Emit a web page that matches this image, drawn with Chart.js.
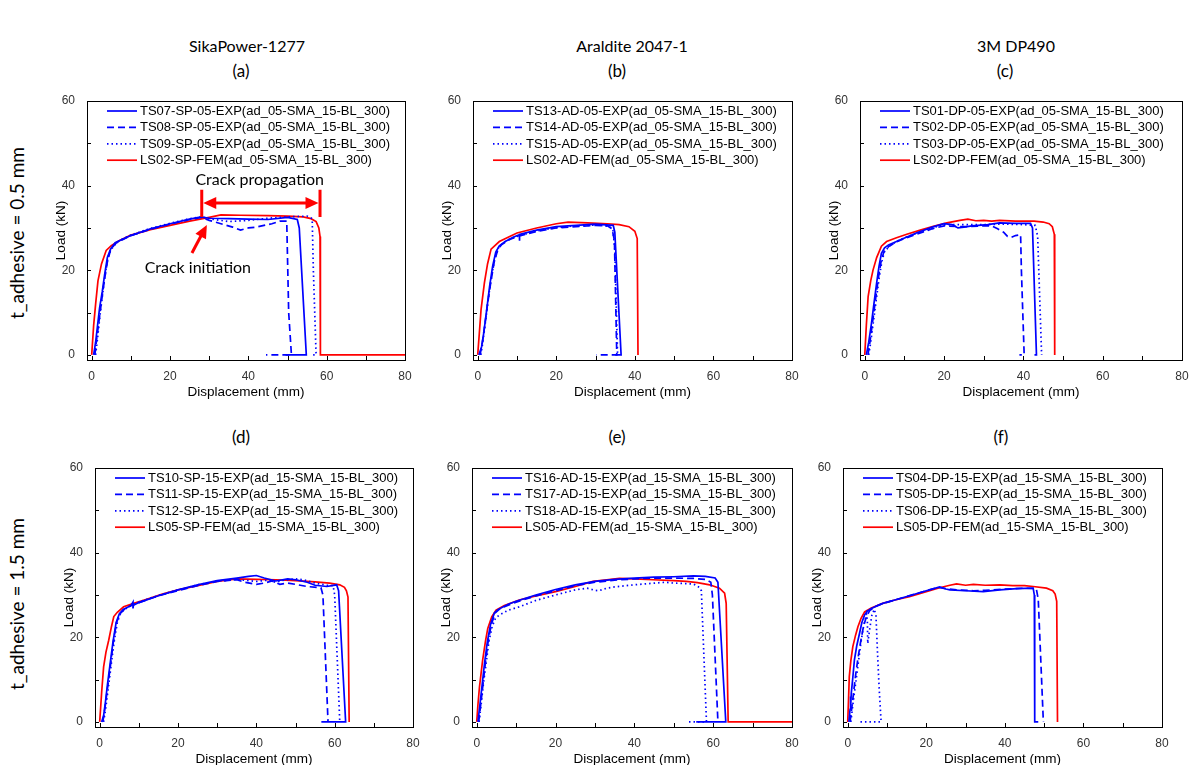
<!DOCTYPE html>
<html>
<head>
<meta charset="utf-8">
<script src="https://cdn.jsdelivr.net/npm/chart.js@4.4.1/dist/chart.umd.min.js"></script>
<style>
body { margin: 0; background: #fff; width: 1194px; height: 765px; position: relative; overflow: hidden; font-family: Lato, sans-serif; }
canvas { position: absolute; }
.t { position: absolute; transform: translate(-50%, -50%); white-space: nowrap; color: #000; font-size: 17px; }
.col { font-size: 16px; }
.row { font-size: 19px; transform: translate(-50%, -50%) rotate(-90deg); }
</style>
</head>
<body>
<div class="t col" style="left:247px;top:45px">SikaPower-1277</div>
<div class="t col" style="left:632px;top:45px">Araldite 2047-1</div>
<div class="t col" style="left:1016px;top:45px">3M DP490</div>
<div class="t" style="left:241px;top:70px">(a)</div>
<div class="t" style="left:617px;top:70px">(b)</div>
<div class="t" style="left:1005px;top:70px">(c)</div>
<div class="t" style="left:241px;top:436px">(d)</div>
<div class="t" style="left:617px;top:436px">(e)</div>
<div class="t" style="left:1001px;top:436px">(f)</div>
<div class="t row" style="left:16px;top:233px">t_adhesive = 0.5 mm</div>
<div class="t row" style="left:16px;top:604px">t_adhesive = 1.5 mm</div>

<script>
// axis ticks
const xTicks = [0, 10, 20, 30, 40, 50, 60, 70, 80];
const yTicks = [0, 10, 20, 30, 40, 50, 60];

// legend names
const namesA = ['TS07-SP-05-EXP(ad_05-SMA_15-BL_300)', 'TS08-SP-05-EXP(ad_05-SMA_15-BL_300)', 'TS09-SP-05-EXP(ad_05-SMA_15-BL_300)', 'LS02-SP-FEM(ad_05-SMA_15-BL_300)'];
const namesB = ['TS13-AD-05-EXP(ad_05-SMA_15-BL_300)', 'TS14-AD-05-EXP(ad_05-SMA_15-BL_300)', 'TS15-AD-05-EXP(ad_05-SMA_15-BL_300)', 'LS02-AD-FEM(ad_05-SMA_15-BL_300)'];
const namesC = ['TS01-DP-05-EXP(ad_05-SMA_15-BL_300)', 'TS02-DP-05-EXP(ad_05-SMA_15-BL_300)', 'TS03-DP-05-EXP(ad_05-SMA_15-BL_300)', 'LS02-DP-FEM(ad_05-SMA_15-BL_300)'];
const namesD = ['TS10-SP-15-EXP(ad_15-SMA_15-BL_300)', 'TS11-SP-15-EXP(ad_15-SMA_15-BL_300)', 'TS12-SP-15-EXP(ad_15-SMA_15-BL_300)', 'LS05-SP-FEM(ad_15-SMA_15-BL_300)'];
const namesE = ['TS16-AD-15-EXP(ad_15-SMA_15-BL_300)', 'TS17-AD-15-EXP(ad_15-SMA_15-BL_300)', 'TS18-AD-15-EXP(ad_15-SMA_15-BL_300)', 'LS05-AD-FEM(ad_15-SMA_15-BL_300)'];
const namesF = ['TS04-DP-15-EXP(ad_15-SMA_15-BL_300)', 'TS05-DP-15-EXP(ad_15-SMA_15-BL_300)', 'TS06-DP-15-EXP(ad_15-SMA_15-BL_300)', 'LS05-DP-FEM(ad_15-SMA_15-BL_300)'];

// [displacement mm, load kN]
// (a) SikaPower, 0.5 mm
const a_ts07 = [[0.5,0],[1,3],[1.5,7],[2,11],[2.7,15],[3.3,19],[4,23],[4.8,25],[6,26.5],[8,27.4],[10,28.2],[15,29.8],[20,31],[25,32.1],[28,32.6],[30,32.3],[35,32.2],[40,32.1],[45,32],[50,32.5],[52.5,32],[53,30],[54.8,0],[49.5,0]];
const a_ts08 = [[0.8,0],[1.3,4],[2,9],[2.7,14],[3.3,18],[4,22],[4.8,24.8],[6,26.3],[8,27.3],[10,28.2],[15,29.7],[20,30.9],[25,32],[28,32.5],[30,31.8],[33,31],[36,30.2],[38,29.5],[40,30],[42,30.2],[44,30.6],[46,31],[48,31.6],[49.8,31.6],[50.3,10],[51,0],[44.5,0]];
const a_ts09 = [[1,0],[1.5,4],[2.2,10],[3,16],[3.6,20],[4.3,23.5],[5,25],[6.5,26.6],[8,27.5],[10,28.3],[15,29.9],[20,31.1],[25,32.2],[28,32.6],[30,32.2],[35,31.5],[40,31.8],[45,32.3],[50,32.6],[55,32.8],[56.3,32.2],[56.6,20],[57.3,0],[55.8,0]];
const a_ls02 = [[0,0],[0.5,7],[1,12],[1.6,17.5],[2.5,21.5],[3.7,24.7],[5,25.8],[7,27],[10,28.3],[15,29.6],[20,30.6],[25,31.6],[30,32.5],[33,33.1],[38,33],[45,32.9],[50,32.8],[54,32.6],[56,32.2],[57.3,31.5],[58,30],[58.3,28],[58.4,0],[80,0]];

// (b) Araldite, 0.5 mm
const b_ts13 = [[0.3,0],[1,2],[1.5,5],[2.2,10],[3,16],[3.8,21],[4.6,24.3],[5.5,25.8],[7,26.8],[9,27.8],[10.6,28.4],[10.6,27],[10.7,28.5],[15,29.5],[20,30.3],[25,30.6],[30,30.9],[34.5,30.6],[34.9,29],[36.5,0],[35,0]];
const b_ts14 = [[0.6,0],[1.2,3],[1.8,7],[2.5,12],[3.3,17],[4.2,22],[5,24.5],[6,26],[8,27.2],[10,28],[15,29.2],[20,30],[25,30.3],[30,30.6],[33,30.5],[34.2,29.8],[34.8,27],[35.4,0],[30.2,0]];
const b_ts15 = [[0.8,0],[1.3,3],[2,8],[2.8,14],[3.6,19],[4.4,23],[5.3,25.3],[6.5,26.5],[8,27.3],[10,28],[15,29.3],[20,30.1],[25,30.5],[30,30.7],[33.5,30.4],[34.4,29.5],[34.9,25],[35.6,0]];
const b_ls02 = [[0,0],[0.4,5],[0.85,10.7],[1.7,17],[2.5,21.5],[3.4,25],[5.5,26.8],[10,28.8],[15,30],[20,31],[23,31.4],[28,31.2],[33,31],[36,30.8],[38.5,30.3],[40,29.2],[40.6,27.5],[40.8,0]];

// (c) 3M DP490, 0.5 mm
const c_ts01 = [[0.4,0],[1,3],[1.7,7.5],[2.3,12],[3,17],[3.6,21],[4.2,24],[5,25.3],[6,26],[9,27.2],[13,28.8],[17,30.2],[20,31],[22,30.8],[23.5,30],[25,30.2],[27,30.5],[31,30.8],[34,31.2],[38,31.1],[41.8,31.1],[42.3,30],[43.3,0],[42.8,0]];
const c_ts02 = [[0.8,0],[1.3,3],[2,8],[2.7,13],[3.4,18],[4.1,22],[4.8,24.3],[6,25.6],[8,26.7],[10,27.5],[13,28.5],[17,29.8],[20,30.5],[25,30.3],[30,30.5],[32,30.5],[33.5,29.8],[35,29],[36,28],[37,27.8],[38,28.2],[39.3,28.4],[39.5,20],[40.2,0],[39,0]];
const c_ts03 = [[1,0],[1.5,3],[2.2,8],[2.9,13],[3.6,18],[4.3,22],[5,24.5],[6.5,25.9],[8,26.8],[10,27.7],[13,28.7],[17,30],[20,30.8],[25,30.8],[30,30.8],[35,30.9],[40,30.8],[43,30.6],[43.6,28],[44.6,0]];
const c_ls02 = [[0,0],[0.4,7],[0.85,13.8],[1.5,17.5],[2.1,20.1],[3,23],[4.2,25.7],[5.5,26.8],[8,27.7],[10.6,28.5],[14,29.5],[17.3,30.4],[20.7,31.2],[24,31.8],[26,32.1],[28,31.7],[30,31.8],[32,31.6],[34,31.8],[38,31.6],[42.7,31.6],[45,31.4],[46.5,31],[47.3,30.3],[47.8,28.5],[47.9,0]];

// (d) SikaPower, 1.5 mm
const d_ts10 = [[0.5,0],[1,1.5],[1.5,5],[2,9],[2.7,14],[3.4,19],[4.2,23.5],[5,25.5],[6,26.6],[8,27.5],[8.5,28.3],[8.5,26.8],[8.6,27.6],[10,28.2],[15,29.8],[20,31.2],[25,32.4],[30,33.4],[35,34],[38,34.4],[40,34.6],[42,34],[45,33.3],[48,33.8],[50,33.6],[53,33],[55,32.3],[58,32],[60.5,32.4],[61,31],[62.8,0],[56.6,0]];
const d_ts11 = [[0.8,0],[1.3,3],[2,8],[2.7,13],[3.5,19],[4.3,23.5],[5.2,25.6],[6.5,26.8],[8,27.5],[10,28.2],[15,29.8],[20,31],[25,32.2],[30,33.2],[35,33.6],[37,33],[40,32.5],[42,32.8],[44,33.3],[46,32.5],[48,32.8],[50,32.5],[53,32],[56.5,31.7],[57,30],[58.3,0]];
const d_ts12 = [[1,0],[1.5,3],[2.2,8],[3,14],[3.7,19],[4.5,23.5],[5.4,25.8],[7,27],[10,28.3],[15,29.9],[20,31.2],[25,32.4],[30,33.3],[35,33.6],[38,33.4],[40,33.2],[43,33.5],[45,33],[47,33.5],[50,33.8],[52,33.6],[55,32.8],[58,32.3],[59.6,32.2],[60,30],[61.3,0]];
const d_ls05 = [[0,0],[0.5,7],[1,13],[1.6,16.5],[2.3,19.3],[3,22.5],[3.6,24.9],[4.5,25.9],[6.1,27.2],[8.7,28],[12,29],[16,30.2],[20,31.2],[25,32.2],[30,33.2],[35,33.8],[40,33.7],[45,33.6],[50,33.4],[55,33.1],[58.7,32.8],[61.3,32.4],[62.5,31.8],[63,31],[63.4,29.5],[63.7,0]];

// (e) Araldite, 1.5 mm
const e_ts16 = [[0.3,0],[0.8,4],[1.4,9],[2,14],[2.7,19],[3.5,23],[4.5,25.8],[5.5,26.6],[8,27.8],[10,28.5],[15,30],[20,31.3],[25,32.4],[30,33.2],[35,33.7],[40,34],[45,34.2],[50,34.3],[55,34.5],[58,34.4],[60.5,34],[61.2,33],[63.2,0],[55.7,0]];
const e_ts17 = [[0.5,0],[1,4],[1.6,9],[2.2,14],[2.9,19],[3.7,23],[4.7,25.8],[6,26.8],[8,27.6],[10,28.3],[15,29.8],[20,31],[25,32.2],[30,33],[35,33.5],[40,33.8],[45,34],[50,34],[55,33.9],[58,33.7],[59.4,33],[59.8,30],[61.2,0]];
const e_ts18 = [[0.6,0],[1.1,4],[1.7,9],[2.4,14],[3.1,19],[3.9,22.5],[4.8,24.6],[6,25.4],[8,26.4],[10.8,27.2],[15,28.7],[20,30],[25,31.2],[28,31.6],[30,31.1],[31,31],[33,31.6],[35,31.9],[40,32.4],[45,32.8],[48,33],[50,32.8],[55,32.6],[56.5,31.8],[57,31],[58.3,0],[53.6,0]];
const e_ls05 = [[0,0],[0.3,4],[0.7,8.3],[1.5,14.6],[2.2,19],[2.8,22.1],[3.8,24.8],[4.9,26.4],[7,27.5],[10.8,28.8],[15,29.8],[20,30.8],[25,32],[29.5,33.2],[33,33.6],[36.2,33.9],[40,33.8],[44.7,33.6],[50,33.4],[53.2,33.2],[56,32.9],[59.1,32.4],[61.6,31.6],[62.9,30.4],[63.3,28],[63.8,0],[80,0]];

// (f) 3M DP490, 1.5 mm
const f_ts04 = [[0.3,0],[0.6,3],[0.7,6],[0.75,3],[0.9,6.7],[1.3,10.5],[1.7,14.6],[2.3,18],[3,20.9],[3.6,23.5],[4.3,25.3],[5,26.2],[6,26.8],[8.9,28],[12,28.8],[15.7,29.8],[20,31],[23.4,31.9],[25,31.4],[26,31.2],[30,31],[34.5,30.8],[38.7,31.2],[43,31.5],[47.2,31.6],[47.5,30],[47.6,0],[48.5,0]];
const f_ts05 = [[0.6,0],[1,3],[1.5,7],[2,11],[2.6,15],[3.3,19],[4,22.5],[4.8,25],[5.6,26.3],[7,27.3],[9,28],[12,28.8],[16,29.9],[20,31],[23,31.8],[25,31.5],[28,31.2],[32,31],[35,31.1],[40,31.4],[45,31.6],[48,31.5],[48.5,29],[49.8,0]];
const f_ts06 = [[0.8,0],[1.3,4],[2,9],[2.7,14],[3.4,19],[4.1,23],[4.8,25.5],[5,24],[5.1,18.5],[5.6,22],[6.2,25.5],[6.8,26.6],[7.2,25],[7.6,16],[8,8],[8.5,0],[2.6,0]];
const f_ls05 = [[0,0],[0.2,5],[0.4,10.7],[0.8,14.5],[1.3,17.8],[2,20.5],[2.6,22.5],[3.4,24.5],[4.3,26],[6,26.9],[8.9,28],[12,28.8],[15.7,29.6],[20,30.8],[23.4,31.7],[26,32.3],[27.7,32.6],[30,32.3],[32,32.5],[35,32.3],[38.7,32.4],[42,32.2],[45,32.2],[47.2,32],[50.6,31.6],[52.2,31],[52.8,30.2],[53.2,28.5],[53.4,0]];

// annotation anchors for panel (a), in data units
const propArrowX = [28.1, 58.3];
const propArrowY = [35.9, 32.6, 39.0];
const initArrow = [25.6, 24.1, 29.4, 30.7];
const noteText = ['Crack propagation', 'Crack initiation'];
const noteXY = [[42.9, 41.3], [27.1, 20.5]];

// panel boxes (plot area in page px)
const panels = [
  { names: namesA, series: [a_ts07, a_ts08, a_ts09, a_ls02], L: 87, R: 405, T: 101, B: 360, notes: true },
  { names: namesB, series: [b_ts13, b_ts14, b_ts15, b_ls02], L: 473, R: 792, T: 101, B: 360 },
  { names: namesC, series: [c_ts01, c_ts02, c_ts03, c_ls02], L: 860, R: 1182, T: 101, B: 360 },
  { names: namesD, series: [d_ts10, d_ts11, d_ts12, d_ls05], L: 95, R: 413, T: 468, B: 727 },
  { names: namesE, series: [e_ts16, e_ts17, e_ts18, e_ls05], L: 472, R: 792, T: 468, B: 727 },
  { names: namesF, series: [f_ts04, f_ts05, f_ts06, f_ls05], L: 843, R: 1162, T: 468, B: 727 }
];

const dashes = [[], [7, 4], [1.5, 3], []];
const colors = ['#0000ff', '#0000ff', '#0000ff', '#ff0000'];
const YW = 36, XH = 40, PAD = 12;

const framePlugin = {
  id: 'frame',
  afterDraw(chart) {
    const ctx = chart.ctx, a = chart.chartArea;
    const xs = chart.scales.x, ys = chart.scales.y;
    ctx.save();
    ctx.strokeStyle = '#000';
    ctx.lineWidth = 1;
    ctx.strokeRect(a.left + 0.5, a.top + 0.5, a.right - a.left, a.bottom - a.top);
    ctx.beginPath();
    xTicks.forEach(v => {
      const x = Math.round(xs.getPixelForValue(v)) + 0.5;
      ctx.moveTo(x, a.bottom); ctx.lineTo(x, a.bottom - 4);
    });
    yTicks.forEach(v => {
      const y = Math.round(ys.getPixelForValue(v)) + 0.5;
      ctx.moveTo(a.left, y); ctx.lineTo(a.left + 4, y);
    });
    ctx.stroke();
    ctx.restore();
  }
};

const legendPlugin = {
  id: 'inlegend',
  afterDraw(chart) {
    const ctx = chart.ctx, a = chart.chartArea;
    ctx.save();
    ctx.font = '13px "Liberation Sans", Arial, sans-serif';
    ctx.textBaseline = 'middle';
    chart.data.datasets.forEach((ds, i) => {
      const y = a.top + 10 + i * 16.4;
      const x = a.left + 20;
      ctx.strokeStyle = ds.borderColor;
      ctx.lineWidth = 1.7;
      ctx.setLineDash(ds.borderDash);
      ctx.beginPath(); ctx.moveTo(x, y); ctx.lineTo(x + 30, y); ctx.stroke();
      ctx.setLineDash([]);
      ctx.fillStyle = '#000';
      ctx.fillText(ds.label, x + 33, y + 0.5);
    });
    ctx.restore();
  }
};

function arrowHead(ctx, tx, ty, ang, len, half) {
  ctx.beginPath();
  ctx.moveTo(tx, ty);
  ctx.lineTo(tx - len * Math.cos(ang) + half * Math.sin(ang), ty - len * Math.sin(ang) - half * Math.cos(ang));
  ctx.lineTo(tx - len * Math.cos(ang) - half * Math.sin(ang), ty - len * Math.sin(ang) + half * Math.cos(ang));
  ctx.closePath();
  ctx.fill();
}

const notesPlugin = {
  id: 'notes',
  afterDatasetsDraw(chart) {
    const ctx = chart.ctx, xs = chart.scales.x, ys = chart.scales.y;
    const px = v => xs.getPixelForValue(v), py = v => ys.getPixelForValue(v);
    ctx.save();
    ctx.strokeStyle = ctx.fillStyle = '#ff0000';
    ctx.lineWidth = 3;
    // crack propagation bars + double arrow
    const x1 = px(propArrowX[0]), x2 = px(propArrowX[1]), y = py(propArrowY[0]);
    ctx.beginPath();
    ctx.moveTo(x1, py(propArrowY[1])); ctx.lineTo(x1, py(propArrowY[2]));
    ctx.moveTo(x2, py(propArrowY[1])); ctx.lineTo(x2, py(propArrowY[2]));
    ctx.moveTo(x1 + 10, y); ctx.lineTo(x2 - 10, y);
    ctx.stroke();
    arrowHead(ctx, x1 + 1.5, y, Math.PI, 13, 6);
    arrowHead(ctx, x2 - 1.5, y, 0, 13, 6);
    // crack initiation arrow
    const sx = px(initArrow[0]), sy = py(initArrow[1]), tx = px(initArrow[2]), ty = py(initArrow[3]);
    const ang = Math.atan2(ty - sy, tx - sx);
    ctx.beginPath();
    ctx.moveTo(sx, sy);
    ctx.lineTo(tx - 10 * Math.cos(ang), ty - 10 * Math.sin(ang));
    ctx.stroke();
    arrowHead(ctx, tx, ty, ang, 13, 6);
    // texts
    ctx.fillStyle = '#000';
    ctx.font = '16px Lato, sans-serif';
    ctx.textAlign = 'center';
    ctx.textBaseline = 'middle';
    noteText.forEach((t, i) => ctx.fillText(t, px(noteXY[i][0]), py(noteXY[i][1])));
    ctx.restore();
  }
};

panels.forEach(p => {
  const cv = document.createElement('canvas');
  const w = p.R - p.L + YW + PAD, h = p.B - p.T + PAD + XH;
  cv.width = w; cv.height = h;
  cv.style.left = (p.L - YW) + 'px';
  cv.style.top = (p.T - PAD) + 'px';
  cv.style.width = w + 'px'; cv.style.height = h + 'px';
  document.body.appendChild(cv);

  const tickFont = { family: '"Liberation Sans", Arial, sans-serif', size: 12 };
  const titleFont = { family: '"Liberation Sans", Arial, sans-serif', size: 13.5 };
  const plugins = [framePlugin, legendPlugin];
  if (p.notes) plugins.push(notesPlugin);

  new Chart(cv, {
    type: 'scatter',
    data: {
      datasets: p.series.map((s, i) => ({
        label: p.names[i],
        data: s.map(q => ({ x: q[0], y: q[1] })),
        showLine: true,
        pointRadius: 0,
        borderColor: colors[i],
        borderWidth: 1.7,
        borderDash: dashes[i],
        tension: 0,
        fill: false
      }))
    },
    options: {
      responsive: false,
      animation: false,
      devicePixelRatio: 1,
      layout: { padding: { left: 0, top: PAD, right: PAD, bottom: 0 } },
      plugins: { legend: { display: false }, tooltip: { enabled: false } },
      scales: {
        x: {
          type: 'linear', min: -1.2, max: 80,
          afterBuildTicks: s => { s.ticks = xTicks.map(v => ({ value: v })); },
          afterFit: s => { s.height = XH; },
          grid: { display: false }, border: { display: false },
          ticks: { padding: 1, autoSkip: false, maxRotation: 0, font: tickFont, color: '#333',
                   callback: v => (v % 20 === 0 ? String(v) : '') },
          title: { display: true, text: 'Displacement (mm)', font: titleFont, color: '#000', padding: { top: 4, bottom: 0 } }
        },
        y: {
          type: 'linear', min: -1.2, max: 60,
          afterBuildTicks: s => { s.ticks = yTicks.map(v => ({ value: v })); },
          afterFit: s => { s.width = YW; },
          grid: { display: false }, border: { display: false },
          ticks: { padding: 4, autoSkip: false, font: tickFont, color: '#333',
                   callback: v => (v % 20 === 0 ? String(v) : '') },
          title: { display: true, text: 'Load (kN)', font: titleFont, color: '#000', padding: { top: 2, bottom: 0 } }
        }
      }
    },
    plugins: plugins
  });
});
</script>
</body>
</html>
